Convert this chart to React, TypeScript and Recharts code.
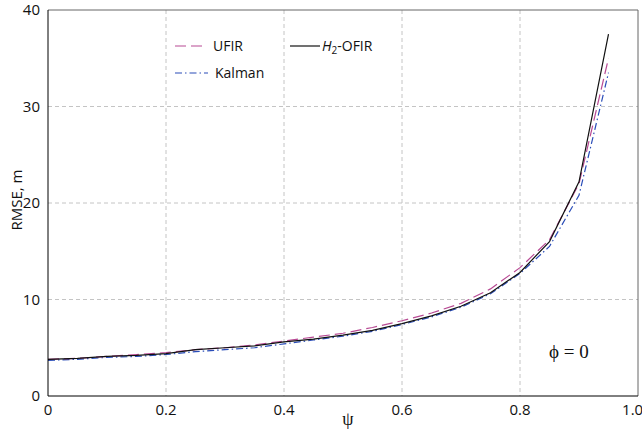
import React from "react";
import {
  CartesianGrid,
  Line,
  LineChart,
  ReferenceLine,
  XAxis,
  YAxis,
} from "recharts";

const psi = [0, 0.05, 0.1, 0.15, 0.2, 0.25, 0.3, 0.35, 0.4, 0.45, 0.5, 0.55, 0.6, 0.65, 0.7, 0.75, 0.8, 0.85, 0.9, 0.95];
const ofir = [3.8, 3.9, 4.1, 4.2, 4.4, 4.8, 5.0, 5.2, 5.6, 5.9, 6.3, 6.8, 7.5, 8.3, 9.3, 10.7, 12.8, 16.0, 22.2, 37.5];
const ufir = [3.8, 3.9, 4.1, 4.3, 4.5, 4.8, 5.0, 5.3, 5.7, 6.1, 6.5, 7.1, 7.8, 8.6, 9.6, 11.1, 13.3, 16.2, 22.0, 35.0];
const kalman = [3.7, 3.8, 4.0, 4.1, 4.3, 4.6, 4.8, 5.0, 5.4, 5.8, 6.2, 6.7, 7.4, 8.2, 9.2, 10.6, 12.7, 15.5, 20.8, 33.5];

const xTicks = [0, 0.2, 0.4, 0.6, 0.8, 1.0];
const yTicks = [0, 10, 20, 30, 40];

const data = psi.map((p, i) => ({ psi: p, ofir: ofir[i], ufir: ufir[i], kalman: kalman[i] }));

const FONT = "'Open Sans', 'Noto Sans', sans-serif";
const SERIF = "'Liberation Serif', 'DejaVu Serif', serif";
const UFIR_COLOR = "#b84a94";
const KALMAN_COLOR = "#2a4db8";

const fmtX = (v: number) => (v === 0 ? "0" : v.toFixed(1));

export default function App() {
  return (
    <div style={{ position: "absolute", left: 0, top: 0, width: 642, height: 432, background: "#fff" }}>
      <LineChart width={642} height={432} data={data} margin={{ top: 10, right: 4, left: 0, bottom: 0 }}>
        <CartesianGrid stroke="#c4c4c4" strokeDasharray="4 3" horizontalValues={[10, 20, 30]} verticalValues={[0.2, 0.4, 0.6, 0.8]} />
        <XAxis
          dataKey="psi"
          type="number"
          domain={[0, 1]}
          ticks={xTicks}
          tickFormatter={fmtX}
          tickLine={false}
          axisLine={{ stroke: "#000" }}
          height={36}
          tick={{ fill: "#111", fontSize: 15, fontFamily: FONT }}
        />
        <YAxis
          type="number"
          domain={[0, 40]}
          ticks={yTicks}
          tickLine={false}
          axisLine={{ stroke: "#000" }}
          width={48}
          tick={{ fill: "#111", fontSize: 15, fontFamily: FONT }}
        />
        <ReferenceLine y={40} stroke="#666" />
        <ReferenceLine x={1} stroke="#666" />
        <Line dataKey="kalman" stroke={KALMAN_COLOR} strokeWidth={1.2} strokeDasharray="7 3 1.5 3" dot={false} isAnimationActive={false} />
        <Line dataKey="ufir" stroke={UFIR_COLOR} strokeWidth={1.2} strokeDasharray="11 5" dot={false} isAnimationActive={false} />
        <Line dataKey="ofir" stroke="#111" strokeWidth={1.2} dot={false} isAnimationActive={false} />
      </LineChart>
      <svg width={642} height={432} style={{ position: "absolute", left: 0, top: 0, pointerEvents: "none" }}>
        <text x={22} y={200} transform="rotate(-90 22 200)" textAnchor="middle" fontSize={15} fontFamily={FONT} fill="#111">RMSE, m</text>
        <text x={348} y={425} textAnchor="middle" fontSize={18} fontFamily={SERIF} fill="#111">ψ</text>
        <line x1={175} y1={46} x2={205} y2={46} stroke={UFIR_COLOR} strokeWidth={1.2} strokeDasharray="11 5" />
        <text x={213} y={51} fontSize={14} fontFamily={FONT} fill="#111">UFIR</text>
        <line x1={175} y1={73} x2={208} y2={73} stroke={KALMAN_COLOR} strokeWidth={1.2} strokeDasharray="7 3 1.5 3" />
        <text x={215} y={78} fontSize={14} fontFamily={FONT} fill="#111">Kalman</text>
        <line x1={290} y1={46} x2={320} y2={46} stroke="#111" strokeWidth={1.2} />
        <text x={322} y={51} fontSize={14} fontFamily={FONT} fill="#111">
          <tspan fontStyle="italic">H</tspan>
          <tspan fontSize={10} dy={3}>2</tspan>
          <tspan dy={-3}>-OFIR</tspan>
        </text>
        <text x={549} y={358} fontSize={19} fontFamily={SERIF} fill="#111">ϕ = 0</text>
      </svg>
    </div>
  );
}
